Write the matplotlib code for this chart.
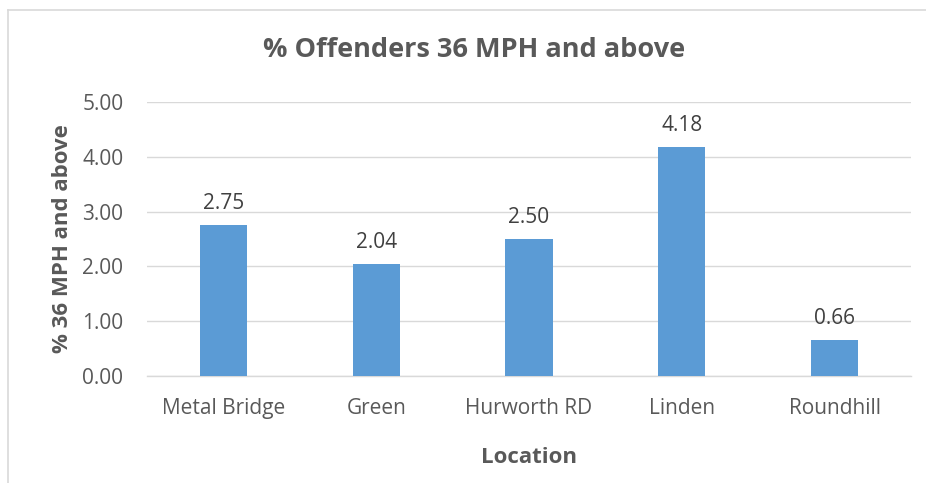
import matplotlib
matplotlib.use("Agg")
import matplotlib.pyplot as plt
from matplotlib.lines import Line2D

# chart data
locations = ["Metal Bridge", "Green", "Hurworth RD", "Linden", "Roundhill"]
pct_offenders = [2.75, 2.04, 2.50, 4.18, 0.66]
y_ticks = [0.0, 1.0, 2.0, 3.0, 4.0, 5.0]

plt.rcParams['font.family'] = ['Open Sans', 'DejaVu Sans']
grey = "#595959"

fig = plt.figure(figsize=(9.26, 4.83), dpi=100)
ax = fig.add_axes([147/926, 1 - 376/483, (911-147)/926, (376-102)/483])

ax.bar(range(len(locations)), pct_offenders, width=0.31, color="#5b9bd5", zorder=3)
for i, v in enumerate(pct_offenders):
    ax.text(i, v + 0.2, "%.2f" % v, ha="center", va="bottom", fontsize=15, color="#404040")

ax.set_xlim(-0.5, len(locations) - 0.5)
ax.set_ylim(0, 5)
ax.set_yticks(y_ticks)
ax.set_yticklabels(["%.2f" % t for t in y_ticks])
ax.set_xticks(range(len(locations)))
ax.set_xticklabels(locations)
ax.tick_params(axis="both", length=0, labelsize=15, labelcolor=grey)
ax.tick_params(axis="y", pad=17)
ax.tick_params(axis="x", pad=16)
ax.grid(axis="y", color="#d9d9d9", linewidth=1, zorder=0)
for s in ["top", "right", "left"]:
    ax.spines[s].set_visible(False)
ax.spines["bottom"].set_color("#d9d9d9")
ax.spines["bottom"].set_linewidth(1)

ax.set_xlabel("Location", fontsize=16, fontweight="bold", color=grey, labelpad=20)
ax.set_ylabel("% 36 MPH and above", fontsize=16, fontweight="bold", color=grey, labelpad=7)
fig.text(474/926, 1 - 50/483, "% Offenders 36 MPH and above", ha="center", va="center",
         fontsize=19.5, fontweight="bold", color=grey)

# outer chart border (only top and left visible in the crop)
fig.add_artist(Line2D([8/926, 1], [1 - 10/483, 1 - 10/483], color="#d9d9d9", linewidth=1.2))
fig.add_artist(Line2D([8/926, 8/926], [0, 1 - 10/483], color="#d9d9d9", linewidth=1.2))

fig.savefig("out.png", dpi=100)
